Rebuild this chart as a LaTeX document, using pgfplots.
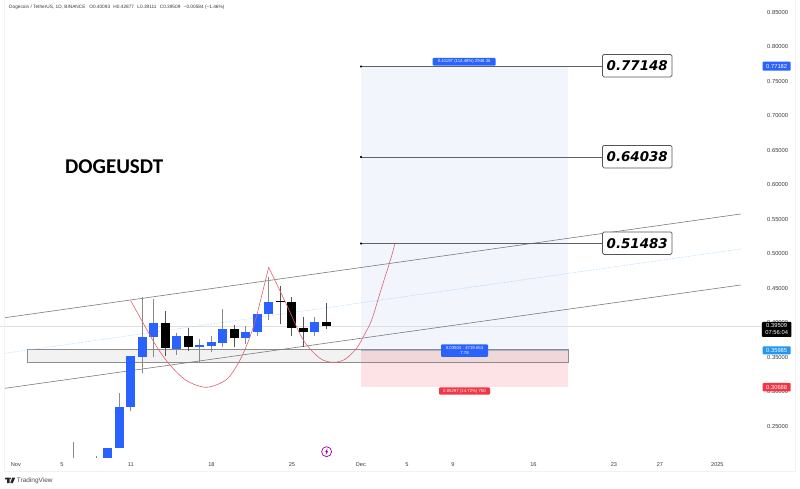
\documentclass[border=0pt]{standalone}
\usepackage{pgfplots}
\pgfplotsset{compat=1.18}
\usepackage{fontspec}
\setmainfont{Liberation Sans}
\newfontfamily\lab{DejaVu Sans}
\newfontfamily\titlefont{Carlito}
\definecolor{tvblue}{HTML}{2962FF}
\definecolor{tvsky}{HTML}{2196F3}
\definecolor{tvred}{HTML}{F23645}
\definecolor{zoneb}{HTML}{F3F5FD}
\definecolor{zoner}{HTML}{FDE3E5}
\definecolor{wick}{HTML}{8A8A8A}
\definecolor{wickd}{HTML}{555555}
\definecolor{cup}{HTML}{E0606F}
\definecolor{chan}{HTML}{7A7A7A}
\definecolor{txt}{HTML}{3A3A3A}
\begin{document}
\begin{tikzpicture}
\useasboundingbox (0,0) rectangle (800pt,489pt);
\begin{axis}[
  at={(0pt,31pt)},anchor=south west,
  scale only axis,width=762pt,height=458pt,
  xmin=-0.3826,xmax=65.88,ymin=0.20406,ymax=0.86783,
  axis line style={draw=none},tick style={draw=none},
  clip mode=individual,unbounded coords=jump,
  xtick={1,5,11,18,25,31,35,39,46,53,57,62},
  xticklabels={Nov,5,11,18,25,Dec,5,9,16,23,27,2025},
  ytick={0.25,0.30,0.35,0.40,0.45,0.50,0.55,0.60,0.65,0.70,0.75,0.80,0.85},
  yticklabel pos=right,
  /pgf/number format/assume math mode=true,
  /pgf/number format/fixed,/pgf/number format/fixed zerofill,/pgf/number format/precision=5,
  yticklabel style={font=\fontsize{5.8}{6}\selectfont,text=txt,anchor=west,inner sep=0pt,xshift=5pt},
  xticklabel style={font=\fontsize{5.6}{6}\selectfont,text=txt,anchor=center,inner sep=0pt,yshift=-7pt},
]
% trade zones
\addplot[fill=zoneb,draw=none] coordinates {(31.01,0.77182)(49.03,0.77182)(49.03,0.35985)(31.01,0.35985)} -- cycle;
\addplot[fill=zoner,draw=none] coordinates {(31.01,0.35985)(49.03,0.35985)(49.03,0.30688)(31.01,0.30688)} -- cycle;
% grey support box
\addplot[fill=black,fill opacity=0.05,draw=none] coordinates {(1.99,0.3613)(49.05,0.3613)(49.05,0.3428)(1.99,0.3428)} -- cycle;
\addplot[color=black!45,line width=0.5pt] coordinates {(1.99,0.3613)(49.05,0.3613)(49.05,0.3428)(1.99,0.3428)(1.99,0.3613)};
\addplot[color=tvblue!30!black!35,line width=0.8pt] coordinates {(31.01,0.35985)(49.03,0.35985)};
% current price
\addplot[color=black!12,line width=0.5pt] coordinates {(-0.38,0.39509)(65.88,0.39509)};
% channel
\addplot[color=chan,line width=0.6pt] coordinates {(0.052,0.4074)(64.03,0.5577)};
\addplot[color=chan,line width=0.6pt] coordinates {(0.052,0.3051)(64.03,0.4548)};
\addplot[color=tvsky!55,line width=0.5pt,densely dotted] coordinates {(0.052,0.3558)(64.03,0.5070)};
% wicks
\addplot[color=wick,line width=0.8pt] coordinates {
(6,.19)(6,.22772)(6,nan)(8,.19)(8,.20695)(8,nan)(10,.21806)(10,.29777)(10,nan)(11,.27265)(11,.3514)(11,nan)
(12,.32676)(12,.43787)(12,nan)(13,.35092)(13,.43449)(13,nan)(15,.35333)(15,.38473)(15,nan)
(17,.34125)(17,.37603)(17,nan)(18,.35816)(18,.38086)(18,nan)(19,.36541)(19,.42)(19,nan)(21,.36927)(21,.39584)(21,nan)
(22,.38135)(22,.41275)(22,nan)(23,.40405)(23,.46686)(23,nan)(27,.38086)(27,.40888)};
\addplot[color=wickd,line width=0.8pt] coordinates {
(14,.35236)(14,.4171)(14,nan)(16,.35961)(16,.39198)(16,nan)(20,.36444)(20,.39681)(20,nan)
(24,.39826)(24,.45333)(24,nan)(25,.38086)(25,.43787)(25,nan)(26,.36444)(26,.40888)(26,nan)(28,.39111)(28,.42877)};
% bodies
\addplot[color=tvblue,line width=9pt,line cap=butt] coordinates {
(9,.196)(9,.21806)(9,nan)(10,.21806)(10,.27797)(10,nan)(11,.27797)(11,.3514)(11,nan)(12,.35092)(12,.37942)(12,nan)
(13,.3799)(13,.39922)(13,nan)(15,.36251)(15,.38135)(15,nan)(17,.36444)(17,.36782)(17,nan)(18,.36686)(18,.37169)(18,nan)
(19,.3712)(19,.39053)(19,nan)(21,.37797)(21,.38666)(21,nan)(22,.38666)(22,.41275)(22,nan)(23,.41275)(23,.43014)(23,nan)
(27,.38714)(27,.40115)};
\addplot[color=black,line width=9pt,line cap=butt] coordinates {
(14,.39922)(14,.36299)(14,nan)(16,.38135)(16,.36444)(16,nan)(20,.39053)(20,.37797)(20,nan)(24,.4311)(24,.42966)(24,nan)
(25,.43014)(25,.39294)(25,nan)(26,.39294)(26,.38666)(26,nan)(28,.40093)(28,.39509)};
% cup and handle
\addplot[color=cup,line width=0.6pt,smooth] coordinates {
(10.98,.43203)(12.08,.39928)(13.24,.36537)(14.40,.33884)(15.85,.31609)(17.59,.30653)(19.33,.31812)(20.49,.34609)(21.36,.37986)(21.99,.41377)(22.98,.48044)};
\addplot[color=cup,line width=0.6pt,smooth] coordinates {
(22.98,.48044)(24.55,.4258)(25.99,.37508)(27.44,.34855)(28.60,.34276)(29.62,.34711)(30.63,.36305)(31.21,.37986)(31.94,.40406)(32.66,.44319)(33.62,.49392)(33.97,.51566)};
% targets
\addplot[color=black!62,line width=0.8pt] coordinates {(31.01,0.77148)(51.97,0.77148)};
\addplot[color=black!62,line width=0.8pt] coordinates {(31.01,0.64038)(51.97,0.64038)};
\addplot[color=black!62,line width=0.8pt] coordinates {(31.01,0.51483)(51.97,0.51483)};
\addplot[only marks,mark=*,mark size=0.9pt,color=black] coordinates {(31.01,0.77148)(31.01,0.64038)(31.01,0.51483)};
\end{axis}
\begin{scope}[x=1pt,y=-1pt,yshift=489pt]
\draw[black!5,line width=0.5pt] (4.7,0)--(4.7,471.7)--(795,471.7)--(795,0);
% header
\node[anchor=west,inner sep=0pt,text=txt,font=\fontsize{4.75}{5}\selectfont] at (9,6.8) {Dogecoin / TetherUS, 1D, BINANCE\hspace{2.5pt} O0.40093\hspace{2pt} H0.42877\hspace{2pt} L0.39111\hspace{2pt} C0.39509\hspace{2pt} −0.00584 (−1.46\%)};
\node[anchor=west,inner sep=0pt,text=black,font=\titlefont\fontsize{21}{22}\selectfont\bfseries] at (65,167) {DOGEUSDT};
% target boxes
\foreach \yy/\tt in {65.7/0.77148,156.7/0.64038,243.2/0.51483}{
  \node[draw=wickd,fill=white,rounded corners=1.5pt,line width=0.7pt,minimum width=69.5pt,minimum height=22.5pt,inner sep=0pt,font=\lab\fontsize{13.4}{15}\selectfont\bfseries\itshape,text=black] at (637.2,\yy) {\tt};
}
% measuring pills
\node[fill=tvblue,text=white,rounded corners=1pt,minimum width=63pt,minimum height=7.6pt,inner sep=0pt,font=\fontsize{4.3}{4.6}\selectfont] at (464.2,61.8) {0.41197 (114.48\%) 2946.36};
\node[fill=tvblue,text=white,rounded corners=1pt,minimum width=47pt,minimum height=12.6pt,inner sep=0pt,align=center,font=\fontsize{4.3}{5}\selectfont] at (464.5,350.6) {0.03504 : 4719.653\\7.78};
\node[fill=tvred,text=white,rounded corners=1pt,minimum width=51pt,minimum height=7.4pt,inner sep=0pt,font=\fontsize{4.3}{4.6}\selectfont] at (464.5,391) {0.05297 (14.72\%) 750};
% price tags
\node[fill=tvblue,text=white,rounded corners=0.8pt,minimum width=28pt,minimum height=9pt,inner sep=0pt,font=\fontsize{5.8}{6}\selectfont] at (776.7,66.2) {0.77182};
\node[fill=black,text=white,rounded corners=0.8pt,minimum width=29.5pt,minimum height=15pt,inner sep=0pt,align=center,font=\fontsize{5.8}{7}\selectfont] at (776.7,329.5) {0.39509\\07:56:04};
\node[fill=tvsky,text=white,rounded corners=0.8pt,minimum width=28pt,minimum height=8.2pt,inner sep=0pt,font=\fontsize{5.8}{6}\selectfont] at (776.7,350.4) {0.35985};
\node[fill=tvred,text=white,rounded corners=0.8pt,minimum width=28pt,minimum height=8.4pt,inner sep=0pt,font=\fontsize{5.8}{6}\selectfont] at (776.7,387.2) {0.30688};
% lightning
\draw[color=violet!75!magenta,line width=0.7pt] (326.6,451.7) circle (5);
\fill[color=violet!75!magenta] (327.6,448.3)--(325,452.2)--(326.4,452.2)--(325.6,455.1)--(328.2,451.2)--(326.8,451.2)--cycle;
% TradingView mark
\fill[black!85] (5.2,477.6) rectangle (9.6,479.4) (7.2,479.4) rectangle (9.6,483.2);
\fill[black!85] (10.2,478.6) circle (0.9);
\fill[black!85] (12.2,477.6)--(15.2,477.6)--(12.8,483.2)--(10.2,483.2)--cycle;
\node[anchor=west,inner sep=0pt,text=black!70,font=\fontsize{6.5}{7}\selectfont] at (16.7,480.4) {TradingView};
\end{scope}
\end{tikzpicture}
\end{document}
